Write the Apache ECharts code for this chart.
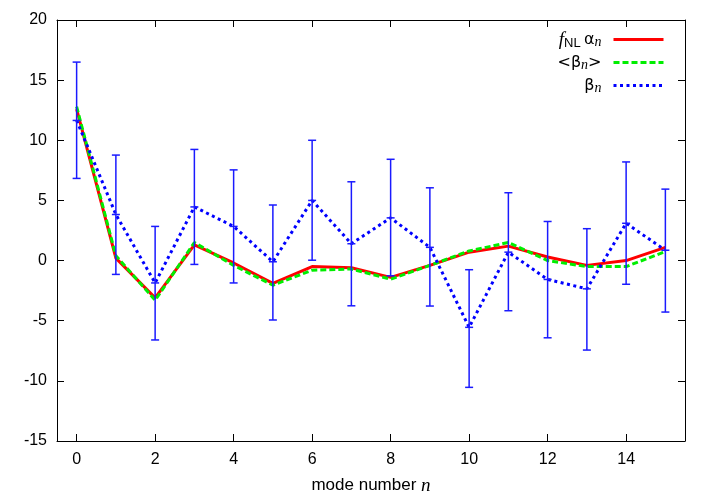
<!DOCTYPE html>
<html>
<head>
<meta charset="utf-8">
<script src="https://cdn.jsdelivr.net/npm/echarts@6/dist/echarts.min.js"></script>
<style>
  html, body { margin: 0; padding: 0; background: #fff; }
  #chart { width: 716px; height: 500px; }
</style>
</head>
<body>
<div id="chart"></div>
<script>
// mode numbers
var modes = [0, 1, 2, 3, 4, 5, 6, 7, 8, 9, 10, 11, 12, 13, 14, 15];
// f_NL alpha_n
var alphaN = [12.6, 0.2, -3.1, 1.3, -0.2, -1.9, -0.5, -0.6, -1.4, -0.4, 0.7, 1.2, 0.3, -0.4, 0.0, 1.1];
// <beta_n>
var meanBeta = [12.8, 0.4, -3.3, 1.5, -0.4, -2.05, -0.8, -0.7, -1.55, -0.4, 0.8, 1.5, 0.0, -0.5, -0.5, 0.75];
// beta_n with error bars
var betaN = [11.65, 3.83, -1.86, 4.46, 2.84, -0.1, 5.0, 1.4, 3.55, 1.1, -5.55, 0.7, -1.57, -2.35, 3.1, 0.86];
var errTop = [16.5, 8.77, 2.84, 9.24, 7.54, 4.62, 10.0, 6.55, 8.42, 6.05, -0.76, 5.64, 3.25, 2.65, 8.2, 5.94];
var errBottom = [6.83, -1.15, -6.6, -0.32, -1.86, -4.94, 0.03, -3.76, -1.27, -3.78, -10.54, -4.17, -6.42, -7.44, -1.97, -4.28];
// tick labels
var xTicks = [0, 2, 4, 6, 8, 10, 12, 14];

var chart = echarts.init(document.getElementById('chart'));

function pairs(vals) {
  return modes.map(function (m, i) { return [m, vals[i]]; });
}

var errData = modes.map(function (m, i) {
  return [m, errBottom[i], errTop[i], betaN[i]];
});

function renderErr(params, api) {
  var x = api.value(0);
  var lo = api.coord([x, api.value(1)]);
  var hi = api.coord([x, api.value(2)]);
  var mid = api.coord([x, api.value(3)]);
  var w = 4;
  var st = { stroke: '#1a1aff', lineWidth: 1.5 };
  return {
    type: 'group',
    children: [
      { type: 'line', shape: { x1: lo[0], y1: lo[1], x2: hi[0], y2: hi[1] }, style: st },
      { type: 'line', shape: { x1: lo[0] - w, y1: lo[1], x2: lo[0] + w, y2: lo[1] }, style: st },
      { type: 'line', shape: { x1: hi[0] - w, y1: hi[1], x2: hi[0] + w, y2: hi[1] }, style: st },
      { type: 'line', shape: { x1: mid[0] - w, y1: mid[1], x2: mid[0] + w, y2: mid[1] }, style: st }
    ]
  };
}

var legendText = {
  alpha: '{it|f}{sub|NL} {gr|α}{subi|n}',
  mean: '{gr|<β}{subi|n}{gr|>}',
  beta: '{gr|β}{subi|n}'
};

var axisCommon = {
  type: 'value',
  axisLine: { show: true, onZero: false, lineStyle: { color: '#000', width: 1 } },
  splitLine: { show: false }
};

var option = {
  animation: false,
  backgroundColor: '#fff',
  grid: { left: 57, right: 31, top: 20, bottom: 56 },
  legend: {
    orient: 'vertical',
    right: 51,
    top: 30,
    padding: 0,
    align: 'right',
    itemWidth: 50,
    itemHeight: 14,
    itemGap: 5,
    data: ['alpha', 'mean', 'beta'],
    itemStyle: { opacity: 0 },
    lineStyle: { width: 3 },
    formatter: function (name) { return legendText[name]; },
    textStyle: {
      padding: [0, 7, 0, 0],
      rich: {
        it: { fontFamily: 'Liberation Serif', fontStyle: 'italic', fontSize: 19, color: '#000', lineHeight: 20 },
        sub: { fontFamily: 'Liberation Sans', fontSize: 13, color: '#000', lineHeight: 12, verticalAlign: 'bottom' },
        gr: { fontFamily: 'DejaVu Sans', fontSize: 16, color: '#000', lineHeight: 20 },
        subi: { fontFamily: 'Liberation Serif', fontStyle: 'italic', fontSize: 14, color: '#000', lineHeight: 12, verticalAlign: 'bottom' }
      }
    }
  },
  xAxis: [
    Object.assign({}, axisCommon, {
      min: -0.5,
      max: 15.5,
      position: 'bottom',
      name: '{t|mode number }{i|n}',
      nameLocation: 'middle',
      nameGap: 35,
      nameTextStyle: {
        rich: {
          t: { fontFamily: 'Liberation Sans', fontSize: 17, color: '#000' },
          i: { fontFamily: 'Liberation Serif', fontStyle: 'italic', fontSize: 19, color: '#000' }
        }
      },
      axisTick: { show: true, inside: true, length: 7, customValues: xTicks, lineStyle: { color: '#000' } },
      axisLabel: { show: true, customValues: xTicks, margin: 11, fontFamily: 'Liberation Sans', fontSize: 16, color: '#000' }
    }),
    Object.assign({}, axisCommon, {
      min: -0.5,
      max: 15.5,
      position: 'top',
      axisTick: { show: true, inside: true, length: 7, customValues: xTicks, lineStyle: { color: '#000' } },
      axisLabel: { show: false }
    })
  ],
  yAxis: [
    Object.assign({}, axisCommon, {
      min: -15,
      max: 20,
      interval: 5,
      position: 'left',
      axisTick: { show: true, inside: true, length: 7, lineStyle: { color: '#000' } },
      axisLabel: { show: true, margin: 10, fontFamily: 'Liberation Sans', fontSize: 16, color: '#000' }
    }),
    Object.assign({}, axisCommon, {
      min: -15,
      max: 20,
      interval: 5,
      position: 'right',
      axisTick: { show: true, inside: true, length: 7, lineStyle: { color: '#000' } },
      axisLabel: { show: false }
    })
  ],
  series: [
    {
      name: 'alpha',
      type: 'line',
      data: pairs(alphaN),
      symbol: 'none',
      lineStyle: { color: '#ff0000', width: 3 },
      itemStyle: { color: '#ff0000' },
      z: 2
    },
    {
      name: 'mean',
      type: 'line',
      data: pairs(meanBeta),
      symbol: 'none',
      lineStyle: { color: '#00ee00', width: 3, type: [6, 3] },
      itemStyle: { color: '#00ee00' },
      z: 3
    },
    {
      name: 'beta',
      type: 'line',
      data: pairs(betaN),
      symbol: 'none',
      lineStyle: { color: '#0000ff', width: 3, type: [3, 3.5] },
      itemStyle: { color: '#0000ff' },
      z: 4
    },
    {
      type: 'custom',
      renderItem: renderErr,
      data: errData,
      encode: { x: 0, y: [1, 2] },
      z: 5
    }
  ]
};

chart.setOption(option);
</script>
</body>
</html>
